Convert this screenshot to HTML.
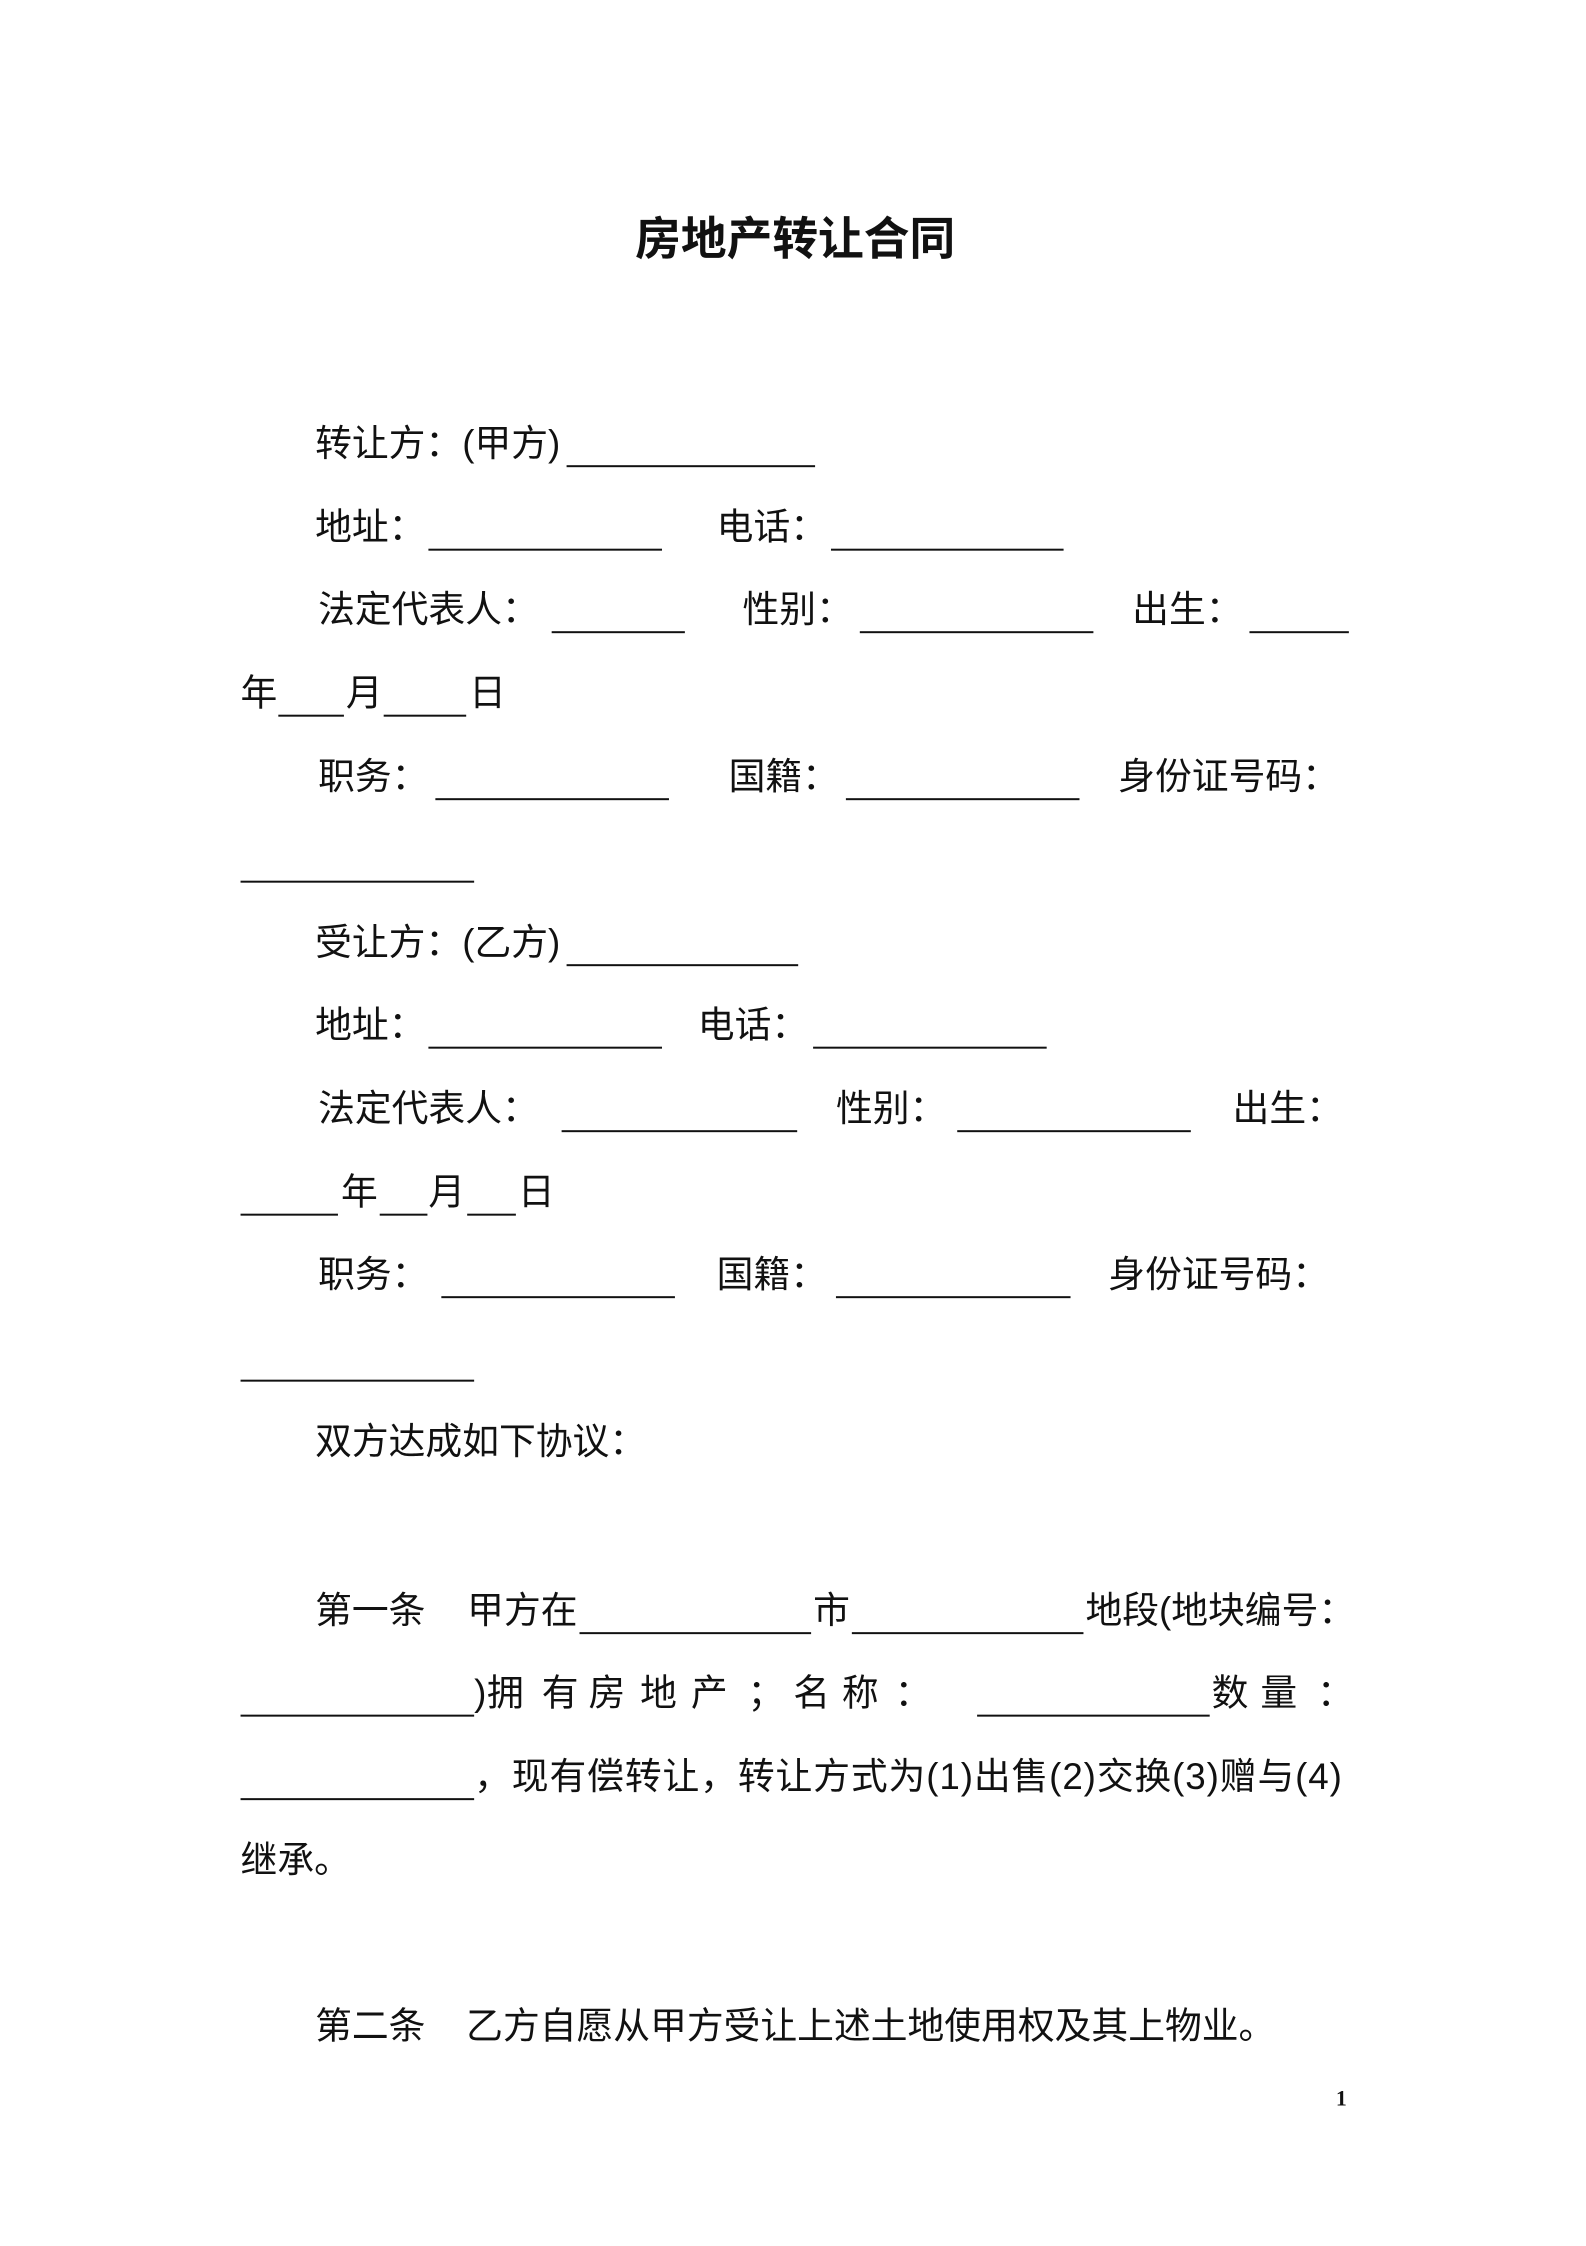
<!DOCTYPE html>
<html><head><meta charset="utf-8">
<style>
html,body{margin:0;padding:0;background:#fff}
body{width:1586px;height:2244px;position:relative;overflow:hidden;font-family:"Liberation Sans","Noto Sans CJK SC",sans-serif;color:#111}
#w{position:absolute;left:0;top:0;width:1600px;height:2260px;transform:scale(0.994);transform-origin:0 0}
.t{position:absolute;font-size:37px;line-height:50px;height:50px;white-space:nowrap}
.u{position:absolute;height:2px;background:#111}
.title{position:absolute;left:0;width:1600px;text-align:center;top:210px;font-size:46px;line-height:60px;font-weight:bold}
</style></head><body><div id="w">
<div class="title">房地产转让合同</div>

<span class="t" style="left:317px;top:422px">转让方：(甲方)</span>
<div class="u" style="left:570px;width:250px;top:468px"></div>
<span class="t" style="left:317px;top:506px">地址：</span>
<div class="u" style="left:431px;width:235px;top:552px"></div>
<span class="t" style="left:721px;top:506px">电话：</span>
<div class="u" style="left:836px;width:234px;top:552px"></div>
<span class="t" style="left:320px;top:589px">法定代表人：</span>
<div class="u" style="left:555px;width:134px;top:635px"></div>
<span class="t" style="left:747px;top:589px">性别：</span>
<div class="u" style="left:865px;width:235px;top:635px"></div>
<span class="t" style="left:1139px;top:589px">出生：</span>
<div class="u" style="left:1257px;width:100px;top:635px"></div>
<span class="t" style="left:242px;top:673px">年</span>
<div class="u" style="left:280px;width:66px;top:719px"></div>
<span class="t" style="left:348px;top:673px">月</span>
<div class="u" style="left:386px;width:83px;top:719px"></div>
<span class="t" style="left:472px;top:673px">日</span>
<span class="t" style="left:320px;top:757px">职务：</span>
<div class="u" style="left:438px;width:235px;top:803px"></div>
<span class="t" style="left:733px;top:757px">国籍：</span>
<div class="u" style="left:851px;width:235px;top:803px"></div>
<span class="t" style="left:1125px;top:757px">身份证号码：</span>
<div class="u" style="left:242px;width:235px;top:886px"></div>
<span class="t" style="left:317px;top:924px">受让方：(乙方)</span>
<div class="u" style="left:570px;width:233px;top:970px"></div>
<span class="t" style="left:317px;top:1007px">地址：</span>
<div class="u" style="left:431px;width:235px;top:1053px"></div>
<span class="t" style="left:702px;top:1007px">电话：</span>
<div class="u" style="left:818px;width:235px;top:1053px"></div>
<span class="t" style="left:320px;top:1091px">法定代表人：</span>
<div class="u" style="left:565px;width:237px;top:1137px"></div>
<span class="t" style="left:841px;top:1091px">性别：</span>
<div class="u" style="left:963px;width:235px;top:1137px"></div>
<span class="t" style="left:1240px;top:1091px">出生：</span>
<div class="u" style="left:242px;width:98px;top:1221px"></div>
<span class="t" style="left:343px;top:1175px">年</span>
<div class="u" style="left:382px;width:48px;top:1221px"></div>
<span class="t" style="left:431px;top:1175px">月</span>
<div class="u" style="left:470px;width:49px;top:1221px"></div>
<span class="t" style="left:521px;top:1175px">日</span>
<span class="t" style="left:320px;top:1258px">职务：</span>
<div class="u" style="left:444px;width:235px;top:1304px"></div>
<span class="t" style="left:721px;top:1258px">国籍：</span>
<div class="u" style="left:841px;width:236px;top:1304px"></div>
<span class="t" style="left:1115px;top:1258px">身份证号码：</span>
<div class="u" style="left:242px;width:235px;top:1388px"></div>
<span class="t" style="left:317px;top:1426px">双方达成如下协议：</span>
<span class="t" style="left:317px;top:1596px">第一条</span>
<span class="t" style="left:470px;top:1596px">甲方在</span>
<div class="u" style="left:583px;width:233px;top:1642px"></div>
<span class="t" style="left:818px;top:1596px">市</span>
<div class="u" style="left:857px;width:233px;top:1642px"></div>
<span class="t" style="left:1092px;top:1596px">地段(地块编号：</span>
<div class="u" style="left:242px;width:235px;top:1725px"></div>
<span class="t" style="left:477px;top:1679px">)</span>
<span class="t" style="left:490px;top:1679px">拥</span>
<span class="t" style="left:545px;top:1679px">有</span>
<span class="t" style="left:592px;top:1679px">房</span>
<span class="t" style="left:644px;top:1679px">地</span>
<span class="t" style="left:695px;top:1679px">产</span>
<span class="t" style="left:752px;top:1679px">；</span>
<span class="t" style="left:798px;top:1679px">名</span>
<span class="t" style="left:847px;top:1679px">称</span>
<span class="t" style="left:900px;top:1679px">：</span>
<div class="u" style="left:983px;width:234px;top:1725px"></div>
<span class="t" style="left:1219px;top:1679px">数</span>
<span class="t" style="left:1268px;top:1679px">量</span>
<span class="t" style="left:1325px;top:1679px">：</span>
<div class="u" style="left:242px;width:235px;top:1809px"></div>
<span class="t" style="left:477px;top:1763px;letter-spacing:0.9px">，现有偿转让，转让方式为(1)出售(2)交换(3)赠与(4)</span>
<span class="t" style="left:242px;top:1847px">继承。</span>
<span class="t" style="left:317px;top:2014px">第二条</span>
<span class="t" style="left:469px;top:2014px">乙方自愿从甲方受让上述土地使用权及其上物业。</span>
<span style="position:absolute;left:1344px;top:2098px;font-size:22px;line-height:26px;font-weight:bold;font-family:'Liberation Serif',serif">1</span>
</div></body></html>
